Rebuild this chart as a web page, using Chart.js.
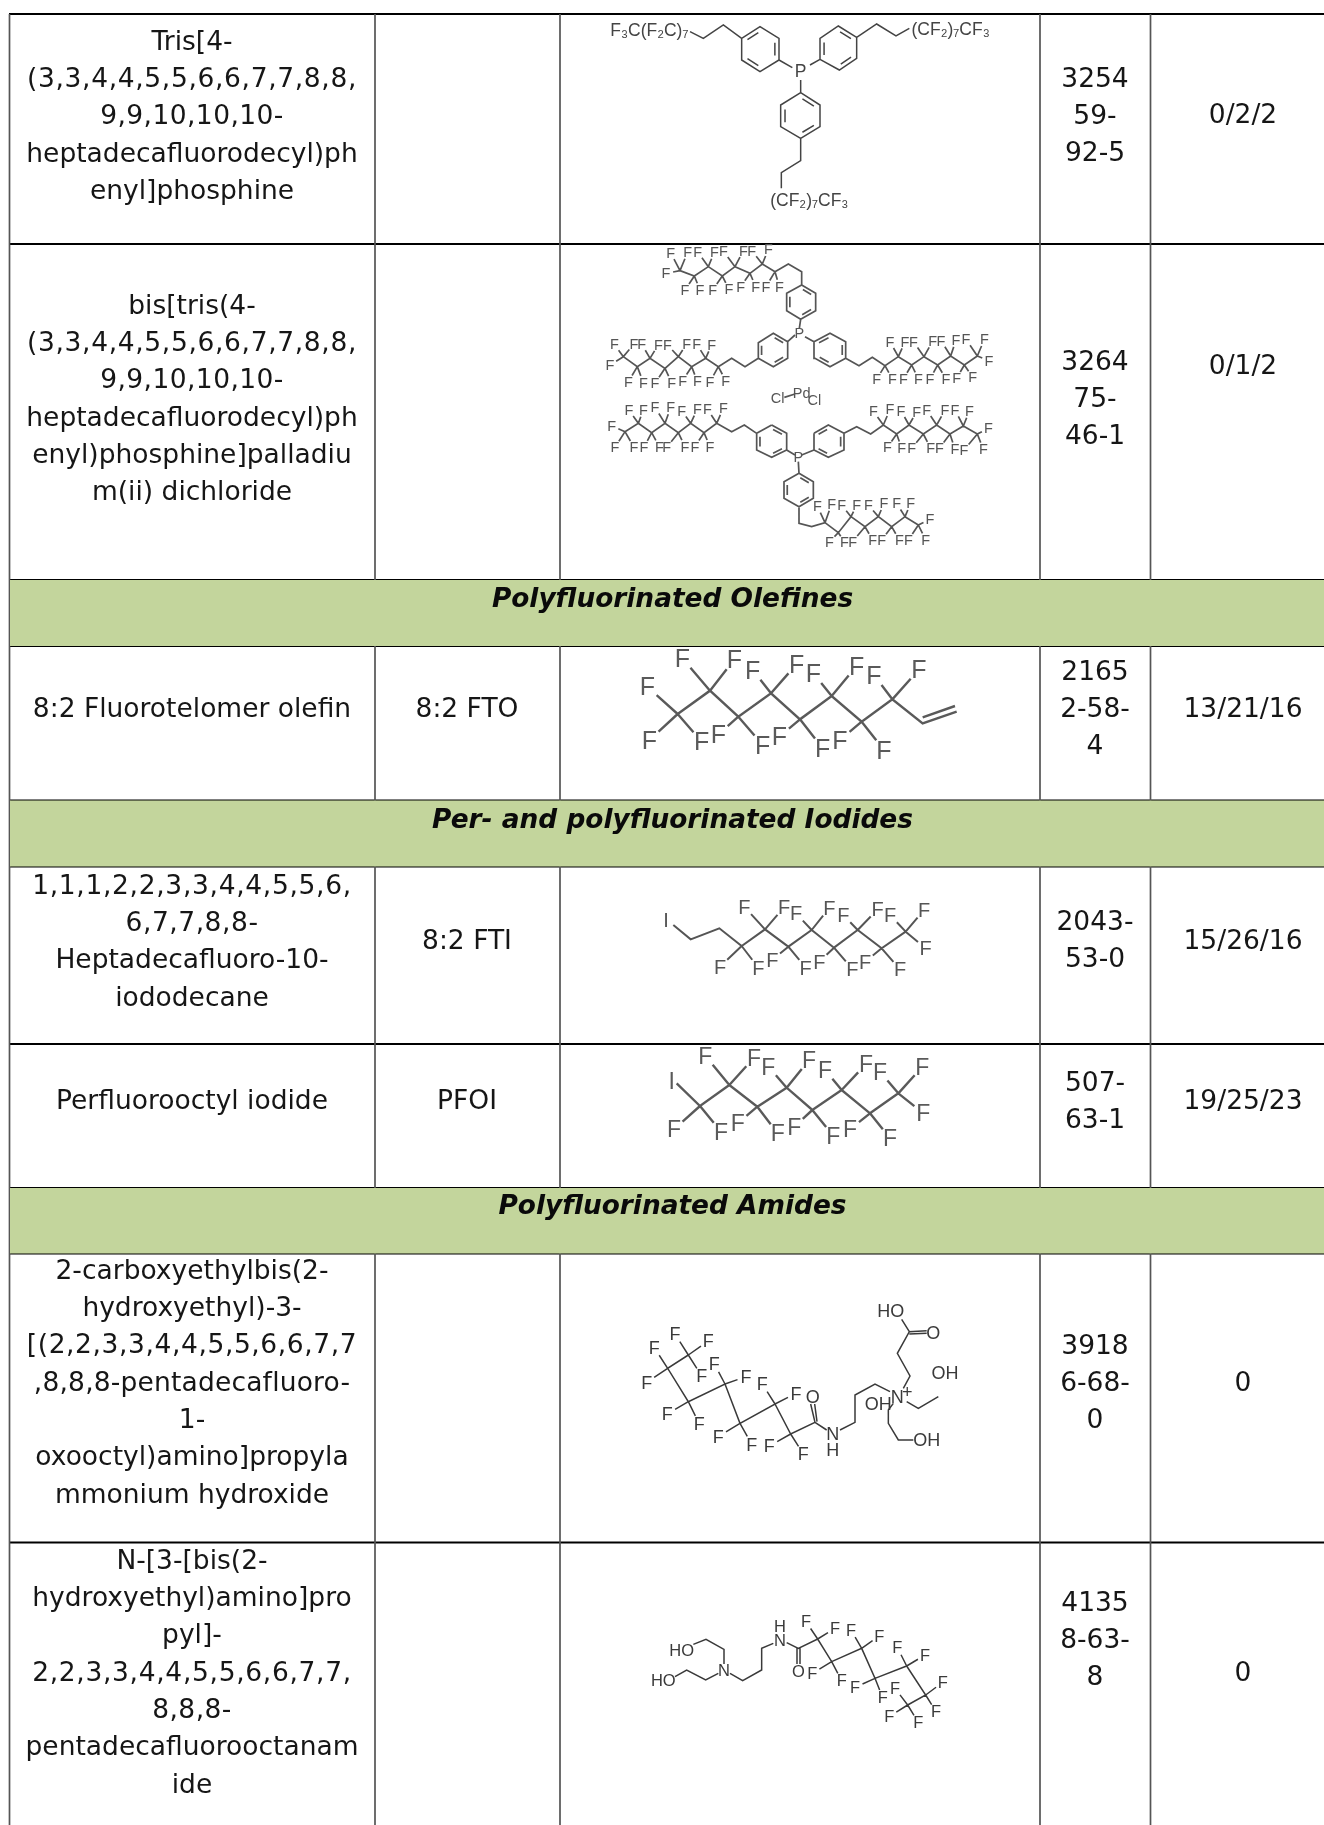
<!DOCTYPE html>
<html><head><meta charset="utf-8">
<style>html,body{margin:0;padding:0;background:#fff}canvas{display:block}</style>
<script src="https://cdn.jsdelivr.net/npm/chart.js@4"></script>
</head><body><canvas id="c" width="1324" height="1825"></canvas>
<script>
// ---------- table content ----------
const columnCentres=[192,467,800,1095,1243];
const names=[
 [43,["Tris[4-","(3,3,4,4,5,5,6,6,7,7,8,8,","9,9,10,10,10-","heptadecafluorodecyl)ph","enyl]phosphine"]],
 [307,["bis[tris(4-","(3,3,4,4,5,5,6,6,7,7,8,8,","9,9,10,10,10-","heptadecafluorodecyl)ph","enyl)phosphine]palladiu","m(ii) dichloride"]],
 [710,["8:2 Fluorotelomer olefin"]],
 [887,["1,1,1,2,2,3,3,4,4,5,5,6,","6,7,7,8,8-","Heptadecafluoro-10-","iododecane"]],
 [1102,["Perfluorooctyl iodide"]],
 [1272,["2-carboxyethylbis(2-","hydroxyethyl)-3-","[(2,2,3,3,4,4,5,5,6,6,7,7",",8,8,8-pentadecafluoro-","1-","oxooctyl)amino]propyla","mmonium hydroxide"]],
 [1562,["N-[3-[bis(2-","hydroxyethyl)amino]pro","pyl]-","2,2,3,3,4,4,5,5,6,6,7,7,","8,8,8-","pentadecafluorooctanam","ide"]]
];
const abbreviations=[[710,"8:2 FTO"],[942,"8:2 FTI"],[1102,"PFOI"]];
const casNumbers=[
 [80,["3254","59-","92-5"]],[363,["3264","75-","46-1"]],[673,["2165","2-58-","4"]],
 [923,["2043-","53-0"]],[1084,["507-","63-1"]],[1347,["3918","6-68-","0"]],[1604,["4135","8-63-","8"]]
];
const counts=[[116,"0/2/2"],[367,"0/1/2"],[710,"13/21/16"],[942,"15/26/16"],[1102,"19/25/23"],[1384,"0"],[1674,"0"]];
const bandTitles=[[600,"Polyfluorinated Olefines"],[821,"Per- and polyfluorinated Iodides"],[1207,"Polyfluorinated Amides"]];
const bandRanges=[[580,646],[800.5,866.5],[1188,1253.5]];
const ruleRows=[14,244,580,646,800.5,866.5,1044,1188,1253.5,1542.5];
const ruleCols=[375,560,1040,1150.5];

// ---------- structures ----------
const m1Lines=[[390,95,430,115,490,75,545,115],[657,180,697,203],[750,195,780,178],[890,112,950,72,1008,108,1048,85],[722,240,722,278],[722,415,722,482,664,518,664,565]];
const m1Rings=[[545,115,600,80,657,115,657,180,600,215,545,180],[780,178,780,115,835,78,890,112,890,175,838,210],[722,278,780,315,780,380,722,415,662,380,662,315]];
const m1Labels=[["F\u2083C(F\u2082C)\u2087",268,90],["P",722,212],["(CF\u2082)\u2087CF\u2083",1172,86],["(CF\u2082)\u2087CF\u2083",748,600]];

const m2Lines=[[360,92,403,108,445,80,487,108,525,80,570,100,607,72,645,95,685,72,725,95,725,135],[722,238,718,265],
 [595,355,555,380,515,355,475,380,437,355,395,380,355,350,315,385,270,355,232,380,190,350],[705,285,683,305],
 [735,290,762,305],[857,355,897,377,937,352,975,377,1015,350,1055,375,1092,350,1133,375,1172,348,1213,375,1252,348],
 [673,472,705,462],
 [590,580,553,555,515,575,470,550,432,578,392,550,355,578,315,550,275,578,235,550,195,575],
 [852,580,890,560,932,582,970,555,1010,582,1047,555,1090,582,1130,555,1170,582,1210,558,1252,582],
 [680,630,705,645],[725,645,762,630],[715,665,717,700],
 [717,800,717,850,755,860,795,848,835,878,873,830,915,860,955,830,995,860,1035,830,1075,855]];
const m2Rings=[[725,135,767,160,767,212,722,238,680,212,680,160],[683,305,640,280,595,308,595,355,640,380,683,355],[762,305,810,280,857,305,857,355,810,380,765,355],
 [635,555,680,580,680,630,635,652,590,630,590,580],[762,580,805,555,852,580,852,630,805,652,762,630],[717,700,760,725,760,775,717,800,672,775,672,725]];
const m2Fluorines=[
 [360,92,332,38,383,36,318,100],[403,108,375,150,420,150],[445,80,413,36,463,36],[487,108,458,150,507,148],[525,80,490,34,550,32],[570,100,542,140,587,140],[607,72,575,32,625,28],[645,95,618,140,658,140],
 [190,350,163,313,222,312,150,375],[232,380,205,425,250,428],[270,355,245,312,295,314],[315,385,285,430,335,428],[355,350,322,314,380,312],[395,380,368,422,412,424],[437,355,410,312,455,314],[475,380,450,425,497,422],
 [975,377,950,417,997,417],[1015,350,990,305,1035,305],[1055,375,1030,417,1075,417],[1092,350,1060,305,1118,303],[1133,375,1110,417,1158,417],[1172,348,1143,302,1188,300],[1213,375,1190,415,1238,412],[1252,348,1218,298,1273,298,1287,362],
 [195,575,155,558,165,622,222,622],[235,550,207,510,250,510],[275,578,252,622,298,620],[315,550,285,502,332,502],[355,578,320,622,375,620],[392,550,365,512,412,507],[432,578,405,620,450,620],[470,550,442,507,490,505],
 [970,555,940,513,990,508],[1010,582,982,622,1025,625],[1047,555,1023,512,1070,515],[1090,582,1055,625,1112,625],[1130,555,1100,510,1155,510],[1170,582,1138,625,1185,628],[1210,558,1185,510,1228,513],[1252,582,1212,630,1270,628,1285,565],
 [795,848,772,798,815,792],[835,878,808,905,853,905],[873,830,845,795,890,795],[915,860,878,905,938,900],[955,830,925,795,972,790],[995,860,965,900,1018,900],[1035,830,1010,790,1052,790],[1075,855,1045,900,1097,900,1110,838]
];
const m2Labels=[["P",718,278],["P",715,652],["Cl",653,475],["Pd",725,458],["Cl",763,480]];

const m3Lines=[[353,222,450,152,535,230,633,160,720,238,815,168,905,245,997,178,1088,250,1190,215],[1088,232,1185,198]];
const m3Fluorines=[[353,222,262,140,268,300,425,305],[450,152,367,55,523,58],[535,230,475,283,608,315],[633,160,578,90,710,72],[720,238,658,290,788,325],[815,168,760,100,890,78],[905,245,840,300,972,330],[997,178,942,105,1077,88]];

const m4Lines=[[340,165,392,208,478,175,545,228,615,178,685,230,755,180,822,233,893,180,965,235,1037,185]];
const m4Fluorines=[[545,228,480,290,595,293],[615,178,553,110,672,112],[685,230,637,270,737,293],[755,180,708,130,808,113],[822,233,778,275,877,297],[893,180,850,135,953,118],[965,235,915,275,1020,298],[1037,185,990,135,1092,120,1097,235]];
const m4Labels=[["I",318,150]];

const m5Lines=[[350,640,420,708,508,645,592,710,680,653,757,720,845,660,930,730,1015,670]];
const m5Fluorines=[[420,708,342,778,483,785],[508,645,436,558,582,563],[592,710,533,760,653,790],[680,653,625,590,747,570],[757,720,703,770,820,798],[845,660,795,600,918,582],[930,730,870,778,990,805],[1015,670,960,605,1087,590,1090,730]];
const m5Labels=[["I",335,632]];

const m6Lines=[[385,285,323,325,385,425,495,372,540,490,645,432,692,522,765,487,800,510],[765,487,752,432],[771,485,764,432],
 [840,510,885,487,885,405,945,372,990,395],[1040,425,1075,445,1135,410],[1030,385,1050,348,1012,280,1048,215,1100,212],[1048,222,1100,220],[1048,215,1025,178],[1000,430,985,450,985,490,1015,540,1060,540]];
const m6Fluorines=[[385,285,345,222,445,243,425,348],[323,325,283,263,260,367],[385,425,322,462,418,492],[495,372,463,312,558,350],[540,490,475,530,575,553],[645,432,607,372,708,400],[692,522,628,558,730,582]];
const m6Labels=[["O",758,410],["N",818,522],["H",818,568],["N",1012,410],["+",1042,395],["HO",992,153],["O",1120,217],["OH",1155,338],["OH",955,430],["OH",1100,540]];

const m7Lines=[[400,163,438,148,492,178,492,222],[345,260,380,240,437,270,475,250],[510,250,548,272,605,240,605,175,640,160],[680,158,715,175,773,147,815,215,905,175,945,265,1040,228,1097,315,1043,345],[711,175,711,222],[720,175,720,222]];
const m7Fluorines=[[773,147,738,95,825,115],[815,215,757,250,845,272],[905,175,873,120,958,138],[945,265,885,292,968,323],[1040,228,1012,172,1095,195],[1097,315,1148,277,1128,365],[1043,345,1005,295,988,380,1075,397]];
const m7Labels=[["HO",365,180],["HO",310,270],["N",492,242],["N",660,150],["H",660,108],["O",715,243]];

const molecules=[
 {ox:560,oy:0,lines:m1Lines,rings:m1Rings,labels:m1Labels,fl:[],font:17.5,lw:1.5,col:"#444"},
 {ox:560,oy:240,lines:m2Lines,rings:m2Rings,labels:m2Labels,fl:m2Fluorines,font:14.5,lw:1.7,col:"#555"},
 {ox:560,oy:640,lines:m3Lines,rings:[],labels:[],fl:m3Fluorines,font:25,lw:2.4,col:"#5a5a5a"},
 {ox:560,oy:870,lines:m4Lines,rings:[],labels:m4Labels,fl:m4Fluorines,font:20,lw:2,col:"#555"},
 {ox:560,oy:870,lines:m5Lines,rings:[],labels:m5Labels,fl:m5Fluorines,font:23,lw:2.4,col:"#5a5a5a"},
 {ox:560,oy:1260,lines:m6Lines,rings:[],labels:m6Labels,fl:m6Fluorines,font:18,lw:1.5,col:"#3a3a3a"},
 {ox:560,oy:1590,lines:m7Lines,rings:[],labels:m7Labels,fl:m7Fluorines,font:16.5,lw:1.5,col:"#3a3a3a"}
];

// ---------- assemble ----------
const GAP={x:NaN,y:NaN};
const TEXT_FONT='26.5px "DejaVu Sans"', LINE=37.3;
const texts=[];
names.forEach(([y,ls])=>ls.forEach((s,i)=>texts.push({t:s,x:columnCentres[0],y:y+i*LINE,font:TEXT_FONT,col:"#161616"})));
abbreviations.forEach(([y,s])=>texts.push({t:s,x:columnCentres[1],y,font:TEXT_FONT,col:"#161616"}));
casNumbers.forEach(([y,ls])=>ls.forEach((s,i)=>texts.push({t:s,x:columnCentres[3],y:y+i*LINE,font:TEXT_FONT,col:"#161616"})));
counts.forEach(([y,s])=>texts.push({t:s,x:columnCentres[4],y,font:TEXT_FONT,col:"#161616"}));
bandTitles.forEach(([y,s])=>texts.push({t:s,x:672.5,y,font:'italic bold 26.4px "DejaVu Sans"',col:"#0a0a0a"}));

const datasets=[];
bandRanges.forEach(([a,b])=>datasets.push({data:[{x:10,y:a},{x:1324,y:a}],fill:{target:{value:b}},backgroundColor:"#c3d59c",borderWidth:0,pointRadius:0,showLine:true}));

function seg(arr){const out=[];arr.forEach(s=>{for(let i=0;i<s.length;i+=2)out.push({x:s[i],y:s[i+1]});out.push(GAP);});return out;}
const hRules=ruleRows.map(y=>[9,y,1324,y]);
const vRuleTall=[[9.5,14,9.5,1825]];
ruleCols.forEach(x=>{
  [[14,580],[646,800.5],[866.5,1188],[1253.5,1825]].forEach(([a,b])=>vRuleTall.push([x,a,x,b]));
});
datasets.push({data:seg(vRuleTall),borderColor:"#555",borderWidth:1.7,pointRadius:0,showLine:true});
datasets.push({data:seg(hRules),borderColor:"#000",borderWidth:2,pointRadius:0,showLine:true});

molecules.forEach(m=>{
  const P=(x,y)=>[m.ox+x/3,m.oy+y/3];
  const drop=m.font*0.07; // centre the capitals on the read position
  const segs=[];
  m.lines.forEach(l=>{const s=[];for(let i=0;i<l.length;i+=2)s.push(...P(l[i],l[i+1]));segs.push(s);});
  m.rings.forEach(r=>{
    const s=[];let cx=0,cy=0;
    for(let i=0;i<12;i+=2){cx+=r[i]/6;cy+=r[i+1]/6;}
    for(let i=0;i<=12;i+=2)s.push(...P(r[i%12],r[i%12+1]));
    segs.push(s);
    for(let i=0;i<12;i+=4){
      const a=[r[i],r[i+1]],b=[r[(i+2)%12],r[(i+2)%12+1]],k=0.78;
      const ia=[cx+(a[0]-cx)*k,cy+(a[1]-cy)*k],ib=[cx+(b[0]-cx)*k,cy+(b[1]-cy)*k];
      const q=0.12,A=[ia[0]+(ib[0]-ia[0])*q,ia[1]+(ib[1]-ia[1])*q],B=[ib[0]+(ia[0]-ib[0])*q,ib[1]+(ia[1]-ib[1])*q];
      segs.push([...P(A[0],A[1]),...P(B[0],B[1])]);
    }
  });
  m.fl.forEach(f=>{
    for(let i=2;i<f.length;i+=2){
      const dx=f[i]-f[0],dy=f[i+1]-f[1],d=Math.hypot(dx,dy),g=Math.min(0.6,m.font*1.5/d);
      segs.push([...P(f[0],f[1]),...P(f[i]-dx*g,f[i+1]-dy*g)]);
      const p=P(f[i],f[i+1]);
      texts.push({t:"F",x:p[0],y:p[1]+drop,font:m.font+'px "Liberation Sans"',col:m.col});
    }
  });
  m.labels.forEach(([s,x,y])=>{const p=P(x,y);texts.push({t:s,x:p[0],y:p[1]+drop,font:m.font+'px "Liberation Sans"',col:m.col});});
  datasets.push({data:seg(segs),borderColor:m.col,borderWidth:m.lw,pointRadius:0,showLine:true});
});

const textPlugin={id:"tableText",afterDatasetsDraw(ch){
  const c=ch.ctx;c.save();c.textAlign="center";c.textBaseline="middle";
  texts.forEach(t=>{
    c.font=t.font;c.fillStyle=t.col;
    // Verdana's commas run wider than DejaVu's; spread the comma-heavy lines to the same width
    const commas=(t.t.match(/,/g)||[]).length;
    c.letterSpacing=commas?(commas*1.35/t.t.length).toFixed(2)+"px":"0px";
    c.fillText(t.t,ch.scales.x.getPixelForValue(t.x),ch.scales.y.getPixelForValue(t.y));
  });
  c.restore();
}};
new Chart(document.getElementById("c"),{
  type:"scatter",data:{datasets},plugins:[textPlugin],
  options:{responsive:false,animation:false,devicePixelRatio:1,layout:{padding:0},
    elements:{line:{tension:0}},
    plugins:{legend:{display:false},tooltip:{enabled:false},title:{display:false}},
    scales:{x:{type:"linear",min:0,max:1324,display:false},y:{type:"linear",min:0,max:1825,reverse:true,display:false}}}
});
</script></body></html>
